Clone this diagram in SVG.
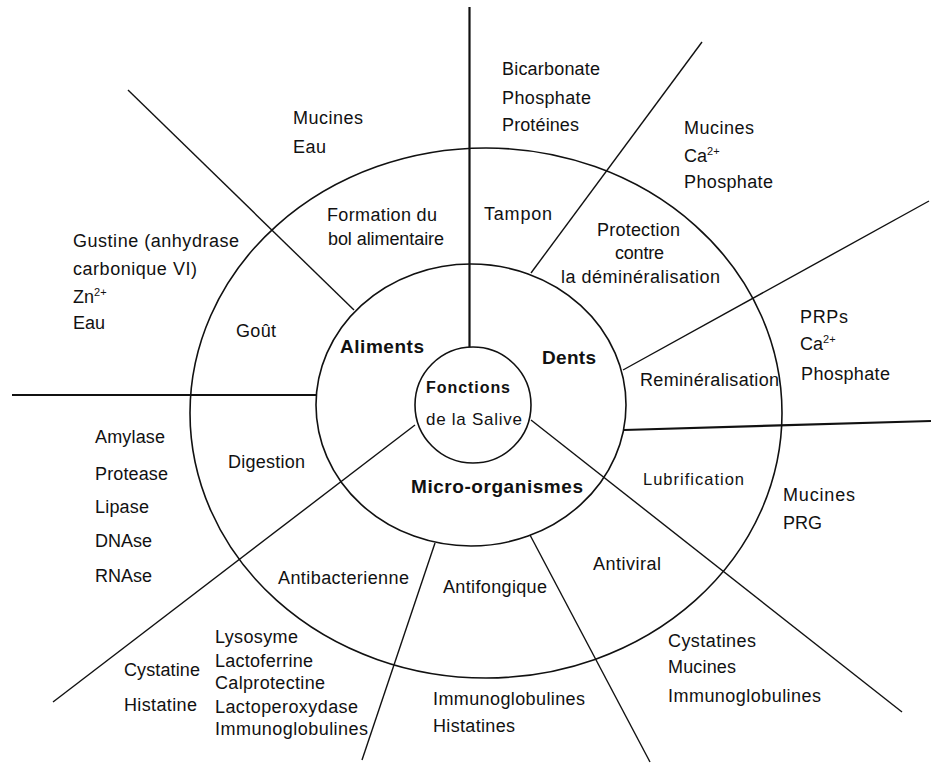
<svg xmlns="http://www.w3.org/2000/svg" width="931" height="764" viewBox="0 0 931 764">
<style>
.ln{stroke:#111;stroke-width:1.4;fill:none}
.thk{stroke:#111;stroke-width:2.2;fill:none}
.ring{stroke:#111;stroke-width:1.6;fill:none}
text{font-family:"Liberation Sans",Arial,sans-serif;font-size:18px;fill:#111}
.b{font-weight:bold;font-size:19px}
.sup{font-size:11px}
</style>
<rect width="931" height="764" fill="#fff"/>
<g id="rings">
<ellipse id="outer-ring" class="ring" cx="486" cy="413" rx="296" ry="265"/>
<ellipse id="middle-ring" class="ring" cx="471" cy="405" rx="155" ry="141"/>
</g>
<g id="connectors">
<line class="thk" x1="469.5" y1="7" x2="469.5" y2="347"/>
<line class="ln" x1="128" y1="90" x2="354" y2="310"/>
<line class="ln" x1="702" y1="42" x2="531" y2="273"/>
<line class="ln" x1="929" y1="201" x2="623" y2="370"/>
<line class="thk" x1="624" y1="430" x2="931" y2="421"/>
<line class="ln" x1="531" y1="420" x2="902" y2="712"/>
<line class="ln" x1="530" y1="535" x2="650" y2="762"/>
<line class="ln" x1="435" y1="543" x2="362" y2="760"/>
<line class="ln" x1="415" y1="425" x2="53" y2="702"/>
<line class="thk" x1="12" y1="395" x2="317" y2="395"/>
</g>
<g id="center">
<circle class="ring" cx="473" cy="405" r="58" fill="#fff"/>
<text x="426" y="393" textLength="84" class="b" style="font-size:16px">Fonctions</text>
<text x="426" y="425" textLength="96" style="font-size:17px">de la Salive</text>
</g>
<g id="aliments"><text class="b" x="340" y="353" textLength="84">Aliments</text></g>
<g id="dents"><text class="b" x="542" y="364" textLength="54">Dents</text></g>
<g id="micro"><text class="b" x="411" y="493" textLength="172">Micro-organismes</text></g>

<g id="formation">
<text x="327" y="221" textLength="110">Formation du</text>
<text x="328" y="245" textLength="116">bol alimentaire</text>
</g>
<g id="formation-items">
<text x="293" y="124" textLength="70">Mucines</text>
<text x="293" y="153" textLength="33">Eau</text>
</g>
<g id="tampon"><text x="484" y="220" textLength="68">Tampon</text></g>
<g id="tampon-items">
<text x="502" y="75" textLength="98">Bicarbonate</text>
<text x="502" y="104" textLength="89">Phosphate</text>
<text x="502" y="131" textLength="77">Protéines</text>
</g>
<g id="protection">
<text x="597" y="236" textLength="83">Protection</text>
<text x="615" y="259" textLength="49">contre</text>
<text x="561" y="283" textLength="159">la déminéralisation</text>
</g>
<g id="protection-items">
<text x="684" y="134" textLength="70">Mucines</text>
<text x="684" y="162">Ca<tspan class="sup" dy="-7">2+</tspan></text>
<text x="684" y="188" textLength="89">Phosphate</text>
</g>
<g id="remineralisation"><text x="640" y="386" textLength="139">Reminéralisation</text></g>
<g id="remineralisation-items">
<text x="800" y="323" textLength="48">PRPs</text>
<text x="800" y="350">Ca<tspan class="sup" dy="-7">2+</tspan></text>
<text x="801" y="380" textLength="89">Phosphate</text>
</g>
<g id="gout"><text x="236" y="337" textLength="40">Goût</text></g>
<g id="gout-items">
<text x="73" y="247" textLength="166">Gustine (anhydrase</text>
<text x="73" y="275" textLength="124">carbonique VI)</text>
<text x="73" y="303">Zn<tspan class="sup" dy="-7">2+</tspan></text>
<text x="73" y="329" textLength="32">Eau</text>
</g>
<g id="digestion"><text x="228" y="468" textLength="77">Digestion</text></g>
<g id="digestion-items">
<text x="95" y="443" textLength="70">Amylase</text>
<text x="95" y="480" textLength="73">Protease</text>
<text x="95" y="513" textLength="54">Lipase</text>
<text x="95" y="547" textLength="57">DNAse</text>
<text x="95" y="582" textLength="57">RNAse</text>
</g>
<g id="lubrification"><text x="643" y="485" textLength="101" style="font-size:16.5px">Lubrification</text></g>
<g id="lubrification-items">
<text x="783" y="501" textLength="72">Mucines</text>
<text x="783" y="529" textLength="39">PRG</text>
</g>
<g id="antibacterienne"><text x="278" y="584" textLength="131">Antibacterienne</text></g>
<g id="antibacterienne-items">
<text x="124" y="676" textLength="76">Cystatine</text>
<text x="124" y="711" textLength="73">Histatine</text>
<text x="215" y="643" textLength="83">Lysosyme</text>
<text x="215" y="667" textLength="98">Lactoferrine</text>
<text x="215" y="689" textLength="110">Calprotectine</text>
<text x="215" y="713" textLength="143">Lactoperoxydase</text>
<text x="215" y="735" textLength="153">Immunoglobulines</text>
</g>
<g id="antifongique"><text x="443" y="593" textLength="104">Antifongique</text></g>
<g id="antifongique-items">
<text x="433" y="705" textLength="152">Immunoglobulines</text>
<text x="433" y="732" textLength="82">Histatines</text>
</g>
<g id="antiviral"><text x="593" y="570" textLength="68">Antiviral</text></g>
<g id="antiviral-items">
<text x="668" y="647" textLength="88">Cystatines</text>
<text x="668" y="673" textLength="68">Mucines</text>
<text x="668" y="702" textLength="153">Immunoglobulines</text>
</g>
</svg>
